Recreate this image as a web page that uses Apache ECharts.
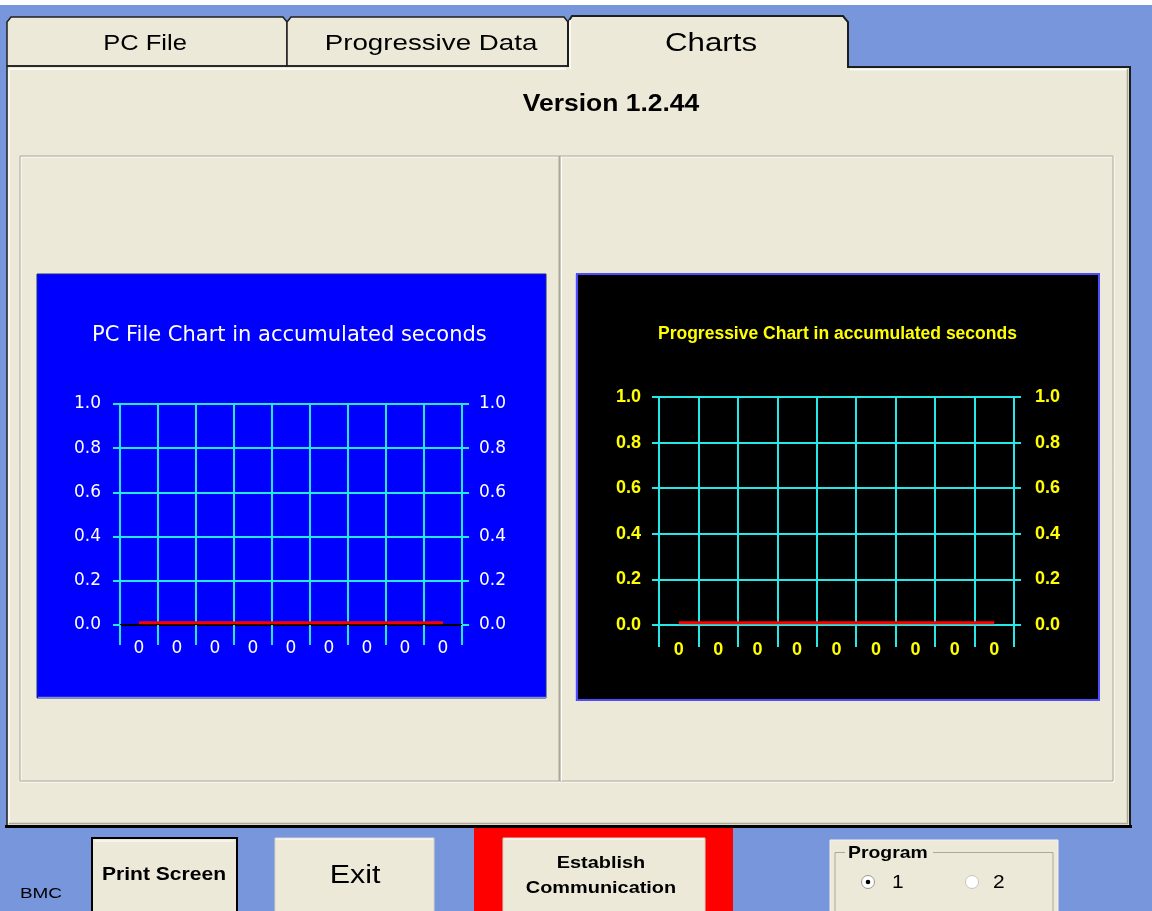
<!DOCTYPE html>
<html><head><meta charset="utf-8">
<script src="https://cdn.jsdelivr.net/npm/echarts@6/dist/echarts.min.js"></script>
<style>html,body{margin:0;padding:0;background:#7896dc;overflow:hidden}#c{width:1152px;height:911px;}</style>
</head><body><div id="c"></div>
<script>
// ---- data ----
const pcCategories = ['0','0','0','0','0','0','0','0','0'];
const pcValues = [0.01,0.01,0.01,0.01,0.01,0.01,0.01,0.01,0.01];
const progCategories = ['0','0','0','0','0','0','0','0','0'];
const progValues = [0.01,0.01,0.01,0.01,0.01,0.01,0.01,0.01,0.01];
const yMin = 0, yMax = 1.0, yStep = 0.2;
const tabLabels = ['PC File','Progressive Data','Charts'];
const versionText = 'Version 1.2.44';
const pcTitle = 'PC File Chart in accumulated seconds';
const progTitle = 'Progressive Chart in accumulated seconds';
const buttonLabels = ['Print Screen','Exit','Establish','Communication'];
const programLabels = ['Program','1','2'];
const footerLabel = 'BMC';

// ---- styling ----
const CYAN = '#27e8e8';
const FACE = '#ece9d8';
const DARK = '#1e1e1e';
const Z = -10;

function rect(x,y,w,h,fill,stroke,lw){return {type:'rect',z:Z,silent:true,shape:{x,y,width:w,height:h},style:{fill:fill||'none',stroke:stroke||null,lineWidth:lw||1}};}
function line(x1,y1,x2,y2,c,w){return {type:'line',z:Z+1,silent:true,shape:{x1,y1,x2,y2},style:{stroke:c,lineWidth:w||1}};}
function poly(pts,fill,stroke,lw){return {type:'polyline',z:Z,silent:true,shape:{points:pts},style:{fill:fill,stroke:stroke,lineWidth:lw||1}};}
function txt(x,y,t,size,weight,sx,align,color,family){return {type:'text',z:Z+2,silent:true,x,y,scaleX:sx||1,style:{text:t,fill:color||'#000',fontSize:size,fontWeight:weight||'normal',fontFamily:family||'Liberation Sans',align:align||'center',verticalAlign:'middle'}};}
function circ(cx,cy,r,fill,stroke){return {type:'circle',z:Z+2,silent:true,shape:{cx,cy,r},style:{fill,stroke:stroke||null,lineWidth:1}};}

const graphics = [
  rect(0,0,1152,5,'#ffffff'),
  // main panel
  rect(7,66,1123,760,FACE),
  // tabs
  {type:'polygon',z:Z,silent:true,shape:{points:[[7,66],[7,22],[11,17],[283,17],[287,22],[287,66]]},style:{fill:FACE,stroke:DARK,lineWidth:1.5}},
  {type:'polygon',z:Z,silent:true,shape:{points:[[287,66],[287,22],[291,17],[564,17],[568,22],[568,66]]},style:{fill:FACE,stroke:DARK,lineWidth:1.5}},
  {type:'polygon',z:Z,silent:true,shape:{points:[[568,68],[568,22],[572,16],[843,16],[848,22],[848,68]]},style:{fill:FACE,stroke:null}},
  poly([[568,67],[568,22],[572,16],[843,16],[848,22],[848,67],[1130,67],[1130,826]],'none',DARK,2),
  line(7,66,568,66,DARK,1.5),
  line(7,66,7,826,DARK,1.5),
  line(5,826.5,1132,826.5,'#000',3),
  line(9,69,566,69,'#ffffff',1.5),
  line(850,69.5,1127,69.5,'#ffffff',1.5),
  line(570,20,570,69,'#ffffff',1.5),
  line(9,69,9,823,'#ffffff',1.5),
  line(9,823.5,1128,823.5,'#aca899',1.5),
  line(1127.5,69,1127.5,824,'#aca899',1.5),
  txt(145,44,tabLabels[0],22,'normal',1.16),
  txt(431,44,tabLabels[1],22,'normal',1.26),
  txt(711,44,tabLabels[2],25,'normal',1.25),
  txt(611,105,versionText,23,'bold',1.15),
  // group box
  rect(21,157,1093,625,null,'#ffffff',1),
  rect(20,156,1093,625,null,'#aca899',1),
  line(559.5,156,559.5,781,'#aca899',2),
  line(561.5,157,561.5,781,'#ffffff',1),
  // chart panels
  rect(37,274,509,424,'#0000ff','#1a2a8a',1),
  line(38,697.5,546,697.5,'#7f8fd0',1.5),
  rect(577,274,522,426,'#000000','#4d4dff',2),
  line(575.5,274,575.5,701,'#c8c8ff',1),
  // bottom bar
  txt(20,894,footerLabel,14,'normal',1.35,'left'),
  rect(92,838,145,80,FACE,'#000000',2),
  line(95,841,234,841,'#ffffff',1),
  txt(164,875,buttonLabels[0],18,'bold',1.17),
  rect(275,838,159,80,FACE,'#d9d5c6',1),
  line(276,839,433,839,'#ffffff',1),
  txt(355,876,buttonLabels[1],26,'normal',1.17),
  rect(474,828,259,83,'#ff0000'),
  rect(503,838,202,80,FACE,'#d9d5c6',1),
  line(504,839,704,839,'#ffffff',1),
  txt(601,863,buttonLabels[2],17,'bold',1.17),
  txt(601,888,buttonLabels[3],17,'bold',1.17),
  rect(830,840,228,80,FACE,'#f4f2ea',1),
  rect(835,852.5,218,70,null,'#aca899',1),
  rect(845,844,88,16,FACE),
  txt(848,853,programLabels[0],17,'bold',1.14,'left'),
  circ(868,882,6.5,'#ffffff','#9c9a90'),
  circ(868,882,2.3,'#000000'),
  txt(892,883,programLabels[1],19,'normal',1.1,'left'),
  circ(972,882,6.5,'#ffffff','#c8c6bc'),
  txt(993,883,programLabels[2],19,'normal',1.1,'left')
];

function yAxis(grid,pos,color,family,weight,size,margin,lineColor){
  return {type:'value',gridIndex:grid,position:pos,min:yMin,max:yMax,interval:yStep,
    axisLine:{show:true,lineStyle:{color:lineColor,width:2}},
    axisTick:{show:true,inside:false,length:7,lineStyle:{color:CYAN,width:2}},
    axisLabel:{color,fontFamily:family,fontWeight:weight,fontSize:size,margin,formatter:v=>v.toFixed(1)},
    splitLine:{show:pos==='left',lineStyle:{color:CYAN,width:2}}};
}

const option = {
  animation:false,
  backgroundColor:'#7896dc',
  graphic:graphics,
  title:[
    {text:pcTitle,left:92,top:325,padding:0,textStyle:{color:'#ffffff',fontFamily:'DejaVu Sans',fontSize:21,fontWeight:'normal'}},
    {text:progTitle,left:658,top:325,padding:0,textStyle:{color:'#ffff00',fontFamily:'Liberation Sans',fontSize:17.5,fontWeight:'bold'}}
  ],
  grid:[
    {left:120,top:404,width:342,height:221,containLabel:false},
    {left:659,top:397,width:355,height:228,containLabel:false}
  ],
  xAxis:[
    {type:'category',gridIndex:0,data:pcCategories,boundaryGap:true,offset:2,
     axisLine:{show:true,lineStyle:{color:'#000000',width:2}},
     axisTick:{show:true,length:20,interval:0,lineStyle:{color:CYAN,width:2}},
     splitLine:{show:true,interval:0,lineStyle:{color:CYAN,width:2}},
     axisLabel:{color:'#ffffff',fontFamily:'DejaVu Sans',fontSize:17,margin:13,interval:0}},
    {type:'category',gridIndex:1,data:progCategories,boundaryGap:true,
     axisLine:{show:true,lineStyle:{color:CYAN,width:2}},
     axisTick:{show:true,length:22,interval:0,lineStyle:{color:CYAN,width:2}},
     splitLine:{show:true,interval:0,lineStyle:{color:CYAN,width:2}},
     axisLabel:{color:'#ffff00',fontFamily:'Liberation Sans',fontWeight:'bold',fontSize:18,margin:16,interval:0}}
  ],
  yAxis:[
    yAxis(0,'left','#ffffff','DejaVu Sans','normal',17,19,CYAN),
    yAxis(0,'right','#ffffff','DejaVu Sans','normal',17,17,CYAN),
    yAxis(1,'left','#ffff00','Liberation Sans','bold',18,18,CYAN),
    yAxis(1,'right','#ffff00','Liberation Sans','bold',18,21,CYAN)
  ],
  series:[
    {type:'line',xAxisIndex:0,yAxisIndex:0,data:pcValues,symbol:'none',lineStyle:{color:'#ff0000',width:3}},
    {type:'line',xAxisIndex:1,yAxisIndex:2,data:progValues,symbol:'none',lineStyle:{color:'#ff0000',width:3}}
  ]
};
const chart = echarts.init(document.getElementById('c'),null,{renderer:'canvas'});
chart.setOption(option);
</script>
</body></html>
